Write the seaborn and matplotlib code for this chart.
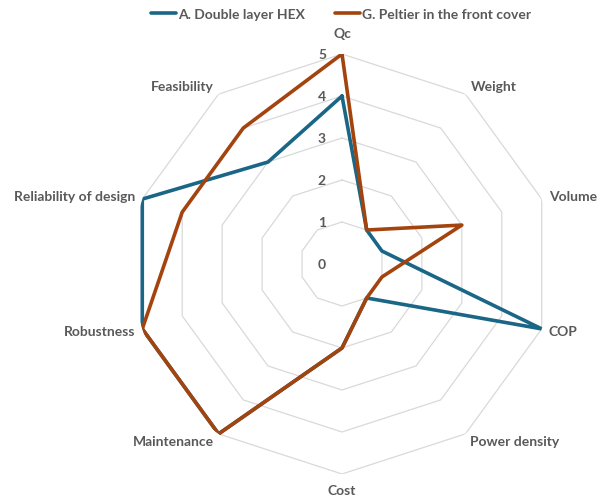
import numpy as np
import pandas as pd
import matplotlib
matplotlib.use("Agg")
import matplotlib.pyplot as plt
import seaborn as sns

categories = ["Qc", "Weight", "Volume", "COP", "Power density", "Cost",
              "Maintenance", "Robustness", "Reliability of design", "Feasibility"]
double_layer_hex = [4, 1, 1, 5, 1, 2, 5, 5, 5, 3]
peltier_front_cover = [5, 1, 3, 1, 1, 2, 5, 5, 4, 4]
series_names = ["A. Double layer HEX", "G. Peltier in the front cover"]
ring_labels = ["0", "1", "2", "3", "4", "5"]

sns.set_theme(style="white")
plt.rcParams["font.family"] = ["Lato", "DejaVu Sans"]

text_color = "#595959"
grid_color = "#D9D9D9"
palette = ["#1A6686", "#A3440F"]
FS = 10

n = len(categories)
angles = np.linspace(0, 2 * np.pi, n, endpoint=False)

df = pd.DataFrame({
    "category": categories * 2,
    "angle": np.concatenate([angles, angles]),
    "value": double_layer_hex + peltier_front_cover,
    "series": [series_names[0]] * n + [series_names[1]] * n,
})

fig = plt.figure(figsize=(6.0, 5.02), dpi=100)
ax = fig.add_axes([132 / 600, 27 / 502, 420 / 600, 420 / 502], projection="polar")
ax.set_theta_zero_location("N")
ax.set_theta_direction(-1)
ax.grid(False)
ax.spines["polar"].set_visible(False)
ax.set_xticks([])
ax.set_yticks([])

# polygonal rings
closed = np.append(angles, angles[0])
for r in range(1, 6):
    ax.plot(closed, [r] * (n + 1), color=grid_color, lw=0.9, zorder=1)

# ring value labels along the Qc axis
px = 72 / 100  # points per pixel
for i, lab in enumerate(ring_labels):
    ax.annotate(lab, xy=(0, i), xytext=(-16 * px, 0), textcoords="offset points",
                ha="right", va="center", fontsize=FS, fontweight="bold",
                color=text_color, annotation_clip=False, zorder=2)

# series lines (closed loops)
for name, color in zip(series_names, palette):
    sub = df[df["series"] == name]
    loop = pd.concat([sub, sub.iloc[[0]]], ignore_index=True)
    sns.lineplot(data=loop, x="angle", y="value", sort=False, ax=ax,
                 color=color, lw=2.6, label=name, zorder=3, estimator=None)

ax.set_xlabel("")
ax.set_ylabel("")
ax.set_xlim(0, 2 * np.pi)
ax.set_ylim(0, 5)

# category labels around the outside: (ha, va, dx px, dy px)
placement = {
    "Qc": ("center", "bottom", 0, 15),
    "Weight": ("left", "center", 5, 8),
    "Volume": ("left", "center", 7, 3),
    "COP": ("left", "center", 7, -2),
    "Power density": ("left", "center", 5, -7),
    "Cost": ("center", "top", 0, -10),
    "Maintenance": ("right", "center", -5, -7),
    "Robustness": ("right", "center", -7, -2),
    "Reliability of design": ("right", "center", -7, 3),
    "Feasibility": ("right", "center", -5, 8),
}
for ang, cat in zip(angles, categories):
    ha, va, dx, dy = placement[cat]
    ax.annotate(cat, xy=(ang, 5), xytext=(dx * px, dy * px),
                textcoords="offset points", ha=ha, va=va, fontsize=FS,
                fontweight="bold", color=text_color, annotation_clip=False)

leg = ax.legend(loc="center", ncol=2, frameon=False, fontsize=FS,
                handlelength=1.8, columnspacing=2.2, handletextpad=0.1)
leg.set_bbox_to_anchor((341 / 600, 1 - 15 / 502), transform=fig.transFigure)
for t in leg.get_texts():
    t.set_color(text_color)
    t.set_fontweight("bold")

fig.savefig("out.png", dpi=100)
